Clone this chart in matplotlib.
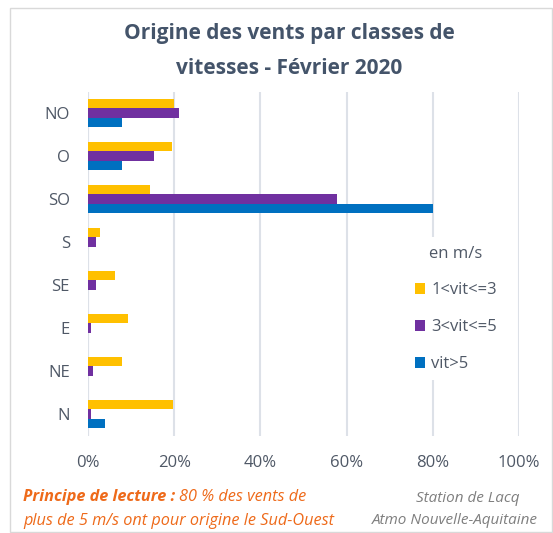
import numpy as np
import matplotlib
matplotlib.use("Agg")
from matplotlib import pyplot as plt
from matplotlib.patches import Rectangle

plt.rcParams['font.family'] = ['Open Sans', 'DejaVu Sans']

# wind sectors, bottom to top
secteurs = ['N', 'NE', 'E', 'SE', 'S', 'SO', 'O', 'NO']
# share of winds per sector (%), one list per speed class
vit_1_3 = [19.8, 8.0, 9.3, 6.2, 2.9, 14.4, 19.4, 20.0]
vit_3_5 = [0.7, 1.1, 0.7, 1.9, 1.9, 57.8, 15.2, 21.0]
vit_5 = [3.9, 0.0, 0.0, 0.0, 0.0, 80.0, 8.0, 8.0]
classes = ['1<vit<=3', '3<vit<=5', 'vit>5']
couleurs = ['#FFC000', '#7030A0', '#0070C0']
xticks = [0, 20, 40, 60, 80, 100]

txt = '#4F5866'
fig = plt.figure(figsize=(5.53, 5.33), dpi=100)
ax = fig.add_axes([88/553, 1 - 435.5/533, 431/553, 344/533])

y = np.arange(len(secteurs))
h = 0.22
for k, (vals, col, lab) in enumerate(zip([vit_1_3, vit_3_5, vit_5], couleurs, classes)):
    ax.barh(y + (1 - k) * h, vals, height=h, color=col, label=lab, zorder=3)

ax.set_xlim(0, 100)
ax.set_ylim(-0.5, 7.5)
ax.set_xticks(xticks)
ax.set_xticklabels([f'{v}%' for v in xticks])
ax.set_yticks(y)
ax.set_yticklabels(secteurs)
ax.tick_params(axis='both', length=0, labelsize=12, colors=txt)
ax.tick_params(axis='x', pad=14)
ax.tick_params(axis='y', pad=13)
ax.grid(axis='x', color='#DDE1E8', lw=1.5, zorder=0)
for s in ax.spines.values():
    s.set_visible(False)
ax.axvline(0, color='#DDE1E8', lw=1.5, zorder=1)

leg = ax.legend(title='en m/s', loc='upper left', bbox_to_anchor=(398/553, 1 - 229/533),
                bbox_transform=fig.transFigure, frameon=True, fancybox=False,
                fontsize=12, title_fontsize=12, handlelength=0.6, handleheight=0.6,
                handletextpad=0.4, labelspacing=1.25, borderpad=0.5)
leg.get_frame().set_facecolor('white')
leg.get_frame().set_edgecolor('none')
leg.get_frame().set_alpha(1)
leg._legend_box.sep = 15
for t in leg.get_texts():
    t.set_color(txt)
leg.get_title().set_color(txt)

fig.text(289/553, 1 - 33/533, 'Origine des vents par classes de', ha='center', va='center',
         fontsize=15, fontweight='bold', color='#44546A')
fig.text(289/553, 1 - 69/533, 'vitesses - Février 2020', ha='center', va='center',
         fontsize=15, fontweight='bold', color='#44546A')

orange = '#EE6A1A'
fs = 11.7
t1 = fig.text(23/553, 1 - 497/533, 'Principe de lecture :', ha='left', va='center',
              fontsize=fs, fontweight='bold', style='italic', color=orange)
fig.canvas.draw()
bb = t1.get_window_extent()
fig.text(bb.x1 / 553 + 4/553, 1 - 497/533, '80 % des vents de', ha='left', va='center',
         fontsize=fs, style='italic', color=orange)
fig.text(23/553, 1 - 521/533, 'plus de 5 m/s ont pour origine le Sud-Ouest', ha='left',
         va='center', fontsize=fs, style='italic', color=orange)
fig.text(468/553, 1 - 499/533, 'Station de Lacq', ha='center', va='center',
         fontsize=11, style='italic', color='#7F7F7F')
fig.text(455/553, 1 - 521/533, 'Atmo Nouvelle-Aquitaine', ha='center', va='center',
         fontsize=11, style='italic', color='#7F7F7F')

fig.patches.append(Rectangle((10/553, 1/533), 542/553, 524/533, transform=fig.transFigure,
                             fill=False, edgecolor='#D9D9D9', lw=1))

fig.savefig('out.png', dpi=100)
